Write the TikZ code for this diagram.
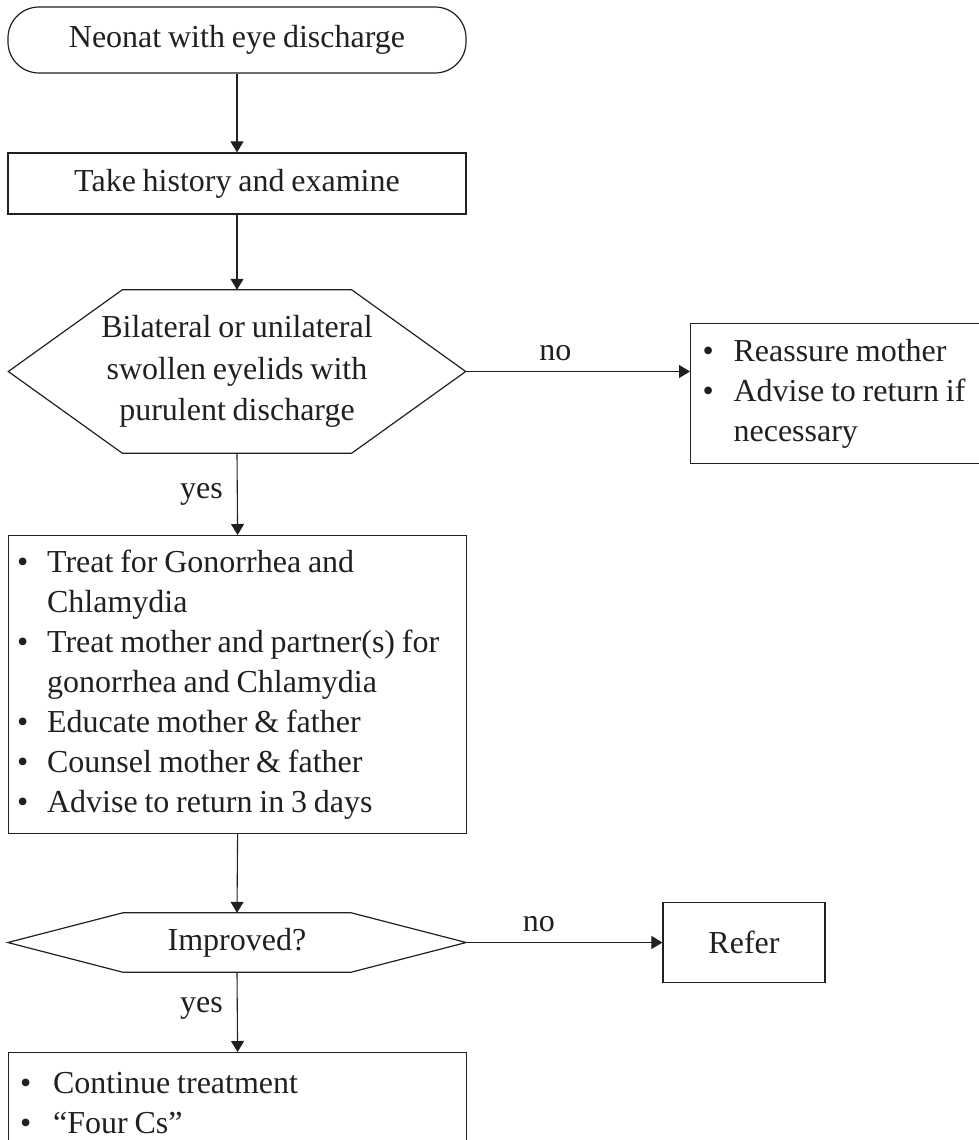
\documentclass[tikz,border=0pt]{standalone}
\usepackage{fontspec}
\setmainfont{Liberation Serif}[WordSpace=0.85]
\usetikzlibrary{arrows.meta,calc}
\definecolor{ink}{RGB}{35,31,32}
% bullet with hanging indent for list lines
\newcommand\bitem[1][30pt]{\makebox[#1][l]{\textbullet}}
\newcommand\bcont[1][30pt]{\hspace*{#1}}
% keep the font's own word spacing inside left-aligned nodes
\newcommand\natsp{\spaceskip=0pt\relax\xspaceskip=0pt\relax}
\begin{document}
\begin{tikzpicture}[x=1pt,y=-1pt,
  every node/.style={font=\fontsize{32}{40}\selectfont, text=ink},
  box/.style={draw=ink, line width=1.2pt, inner sep=0pt},
  flow/.style={draw=ink, line width=1.1pt, -{Triangle[length=11pt,width=13pt]}},
  lbl/.style={inner sep=0pt},
  shapeline/.style={draw=ink, line width=1.2pt},
]
\useasboundingbox (0,0) rectangle (979,1140);
\clip (0,0) rectangle (979,1140);

% start terminal
\node[box, rounded corners=31pt, minimum width=458pt, minimum height=66pt] (start) at (237,40) {Neonat with eye discharge};

% history box
\node[box, minimum width=458pt, minimum height=61pt] (hist) at (237,183.5) {Take history and examine};

% first decision (hexagon)
\node[inner sep=0pt, minimum width=457pt, minimum height=163pt, align=center,
      font=\fontsize{32}{41.5}\selectfont] (q1) at (237,371.5)
  {Bilateral or unilateral\\swollen eyelids with\\purulent discharge};
\draw[shapeline] (q1.west) -- ($(q1.north west)+(114,0)$) -- ($(q1.north east)+(-114,0)$)
  -- (q1.east) -- ($(q1.south east)+(-114,0)$) -- ($(q1.south west)+(114,0)$) -- cycle;

% reassure box
\node[box, anchor=north west, minimum height=140pt, inner xsep=12pt, text width=300pt, align=left] (reas) at (690,323)
  {\natsp\bitem[31pt]Reassure mother\\
   \bitem[31pt]Advise to return if\\
   \bcont[31pt]necessary};

% treatment box
\node[box, anchor=north west, minimum height=298pt, inner xsep=8.5pt, text width=441pt, align=left] (treat) at (8,535)
  {\natsp\bitem Treat for Gonorrhea and\\
   \bcont Chlamydia\\
   \bitem Treat mother and partner(s) for\\
   \bcont gonorrhea and Chlamydia\\
   \bitem Educate mother \& father\\
   \bitem Counsel mother \& father\\
   \bitem Advise to return in 3 days};

% second decision (hexagon)
\node[inner sep=0pt, minimum width=458pt, minimum height=59pt] (q2) at (237,942.5) {Improved?};
\draw[shapeline] (q2.west) -- ($(q2.north west)+(115,0)$) -- ($(q2.north east)+(-115,0)$)
  -- (q2.east) -- ($(q2.south east)+(-115,0)$) -- ($(q2.south west)+(115,0)$) -- cycle;

% refer box
\node[box, minimum width=162pt, minimum height=80pt] (refer) at (744,942.5) {Refer};

% continue box
\node[box, anchor=north west, minimum height=100pt, inner xsep=11.5pt, text width=435pt, align=left] (cont) at (8,1052)
  {\natsp\bitem[33pt]Continue treatment\\
   \bitem[33pt]``Four Cs''};

% connectors
\draw[flow] (start.south) -- (hist.north);
\draw[flow] (hist.south) -- (q1.north);
\draw[flow] (q1.east) -- (q1.east -| reas.west) node[lbl, pos=0.4, above=10pt] {no};
\draw[flow] (q1.south) -- (treat.north) node[lbl, pos=0.5, left=14pt] {yes};
\draw[flow] (treat.south) -- (q2.north);
\draw[flow] (q2.east) -- (refer.west) node[lbl, pos=0.37, above=10pt] {no};
\draw[flow] (q2.south) -- (cont.north) node[lbl, pos=0.45, left=14pt] {yes};
\end{tikzpicture}
\end{document}
